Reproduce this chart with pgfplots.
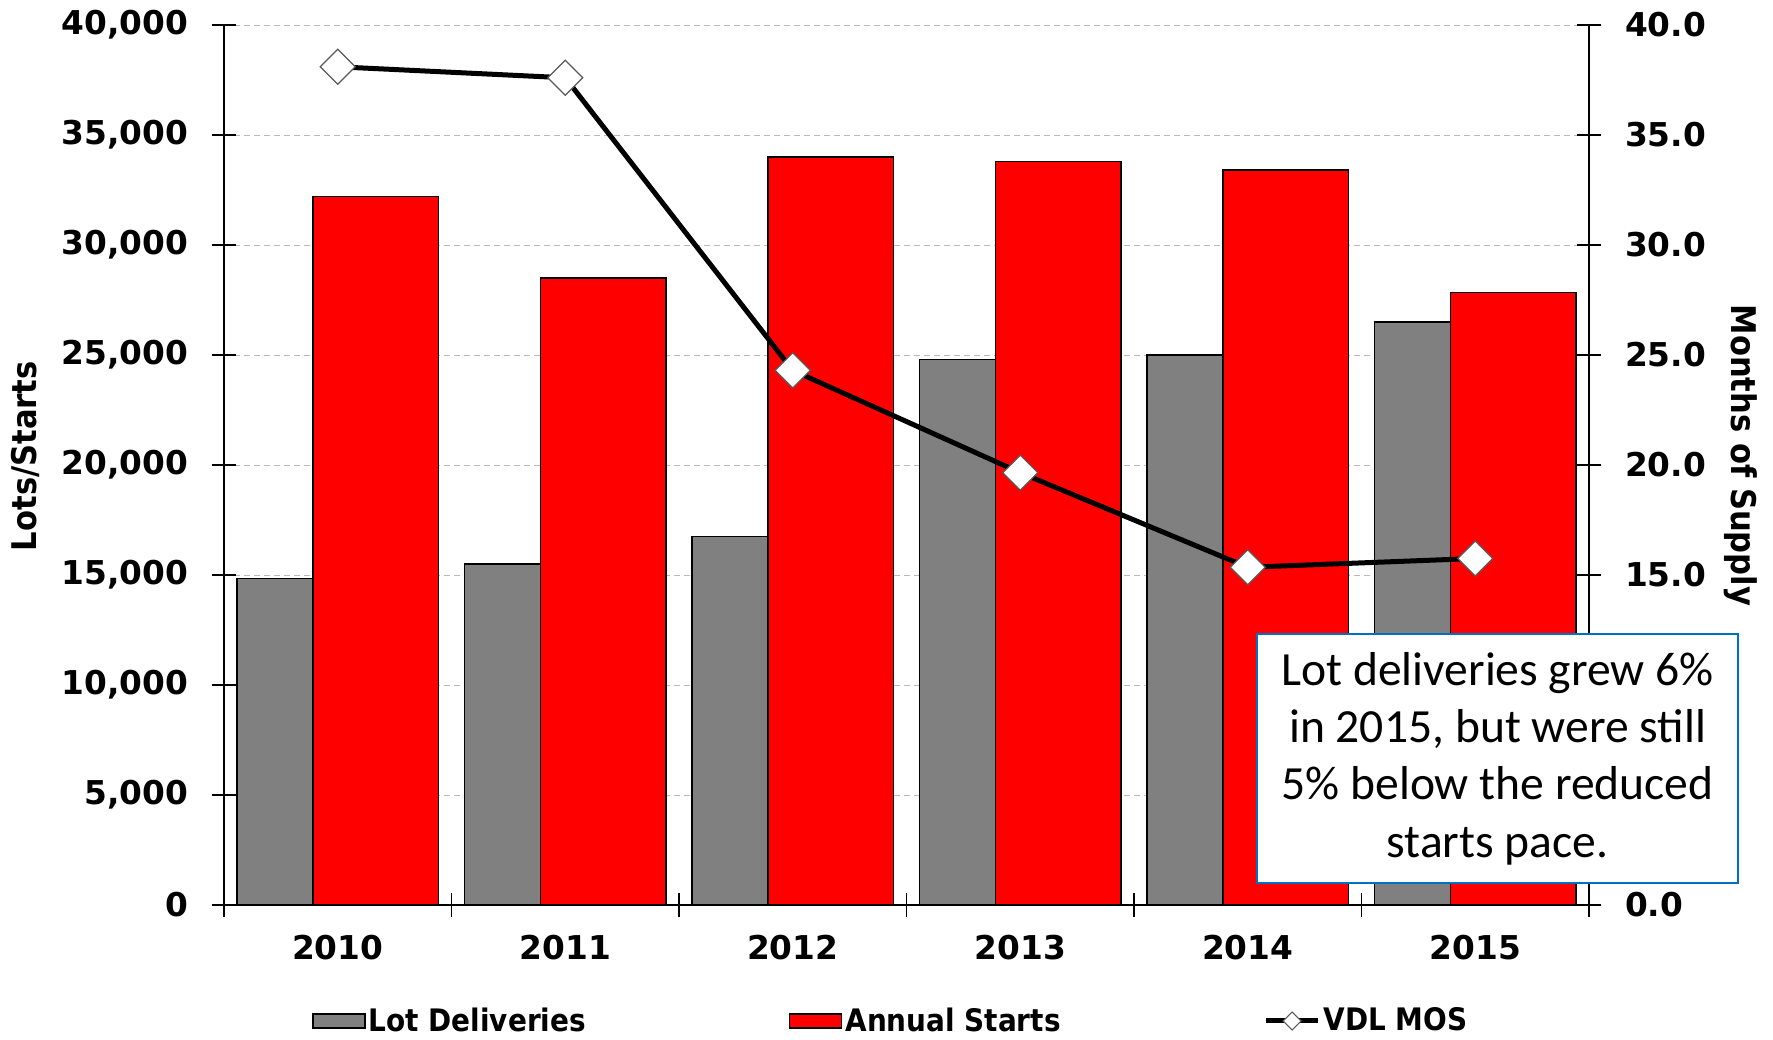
\documentclass[border=0pt]{standalone}
\usepackage{pgfplots}
\usepackage{pgfplotstable}
\pgfplotsset{compat=1.18}
\usepackage{fontspec}
\setmainfont{DejaVu Sans}
\newfontfamily\condfont{DejaVu Sans Condensed}
\newfontfamily\calfont{Carlito}
\definecolor{barred}{RGB}{255,0,0}
\definecolor{bargray}{RGB}{128,128,128}
\definecolor{boxblue}{RGB}{0,112,192}

\pgfplotstableread{
x lots starts mos
0 14850 32200 38.1
1 15500 28500 37.6
2 16750 34000 24.3
3 24800 33800 19.65
4 25000 33400 15.35
5 26500 27850 15.75
}\datatable

\begin{document}
\begin{tikzpicture}
\pgfplotsset{
  common/.style={
    scale only axis, width=682.5pt, height=440pt,
    xmin=-0.5, xmax=5.5, ymin=0,
    tick label style={font=\bfseries\fontsize{16.4}{18}\selectfont},
    /pgf/number format/assume math mode=true,
    major tick length=12pt, minor tick length=12pt,
    tick align=center,
    tick style={black, line width=0.6pt},
    axis line style={black, line width=0.6pt},
    scaled y ticks=false,
  }
}
\begin{axis}[common,
  name=main,
  ymax=40000,
  axis x line*=bottom, axis y line*=left,
  ytick={0,5000,...,40000},
  yticklabel style={/pgf/number format/.cd, fixed, 1000 sep={,}, /tikz/.cd, xshift=-8.5pt},
  xticklabel style={yshift=-5.5pt},
  ymajorgrids,
  grid style={densely dashed, gray!55, line width=0.4pt},
  xtick={0,1,2,3,4,5},
  xticklabels={2010,2011,2012,2013,2014,2015},
  minor xtick={-0.5,0.5,...,5.5},
  major x tick style={draw=none},
  ylabel={Lots/Starts},
  ylabel style={font=\condfont\bfseries\fontsize{17}{20}\selectfont,
    at={(axis description cs:-0.1458,0.51)}, anchor=center},
  legend columns=3,
  legend style={at={(axis description cs:0,0)}, anchor=west, xshift=44pt, yshift=-58pt,
    draw=none, fill=none, inner sep=0pt,
    font=\condfont\bfseries\fontsize{15.5}{18}\selectfont,
    nodes={inner sep=1.5pt},
    /tikz/every even column/.append style={column sep=100pt}},
]
\addplot[ybar, bar width=0.333, bar shift=-0.2755, fill=bargray, draw=black, line width=0.75pt,
  legend image code/.code={\draw[fill=bargray, draw=black, line width=0.75pt] (0pt,-3.5pt) rectangle (26pt,3.5pt);}]
  table[x=x, y=lots]{\datatable};
\addlegendentry{Lot Deliveries}
\addplot[ybar, bar width=0.551, bar shift=0.1665, fill=barred, draw=black, line width=0.75pt,
  legend image code/.code={\draw[fill=barred, draw=black, line width=0.75pt] (0pt,-3.5pt) rectangle (26pt,3.5pt);}]
  table[x=x, y=starts]{\datatable};
\addlegendentry{Annual Starts}
\addlegendimage{legend image code/.code={
  \draw[black, line width=2.5pt] (0pt,0pt) -- (26pt,0pt);
  \draw[gray!70!black, fill=white, line width=0.5pt] (13pt,-4.5pt) -- (17.5pt,0pt) -- (13pt,4.5pt) -- (8.5pt,0pt) -- cycle;}}
\addlegendentry{VDL MOS}
\coordinate (BL) at (rel axis cs:0,0);
\coordinate (TR) at (rel axis cs:1,1);
\coordinate (ann) at (rel axis cs:0.933,0.1665);
\end{axis}
\begin{axis}[common,
  ymax=40,
  axis y line*=right, axis x line=none,
  ytick={0,5,...,40},
  yticklabel style={/pgf/number format/.cd, fixed, fixed zerofill, precision=1, /tikz/.cd, xshift=8.5pt},
  ylabel={Months of Supply},
  ylabel style={font=\condfont\bfseries\fontsize{17}{20}\selectfont,
    at={(axis description cs:1.1114,0.511)}, anchor=center, rotate=180},
]
\addplot[black, line width=2.5pt, mark=square*, mark size=6.2pt,
  mark options={rotate=45, fill=white, draw=gray!70!black, line width=0.6pt}]
  table[x=x, y=mos]{\datatable};
\end{axis}
\node[draw=boxblue, line width=0.8pt, fill=white, minimum width=240.5pt, minimum height=124.5pt,
  align=center, font=\calfont\fontsize{23.8}{28.7}\selectfont, inner sep=0pt] at (ann)
  {Lot deliveries grew 6\%\\in 2015, but were still\\5\% below the reduced\\starts pace.};
\pgfresetboundingbox
\path ([shift={(-112pt,-67.5pt)}]BL) rectangle ([shift={(92pt,12.5pt)}]TR);
\end{tikzpicture}
\end{document}
